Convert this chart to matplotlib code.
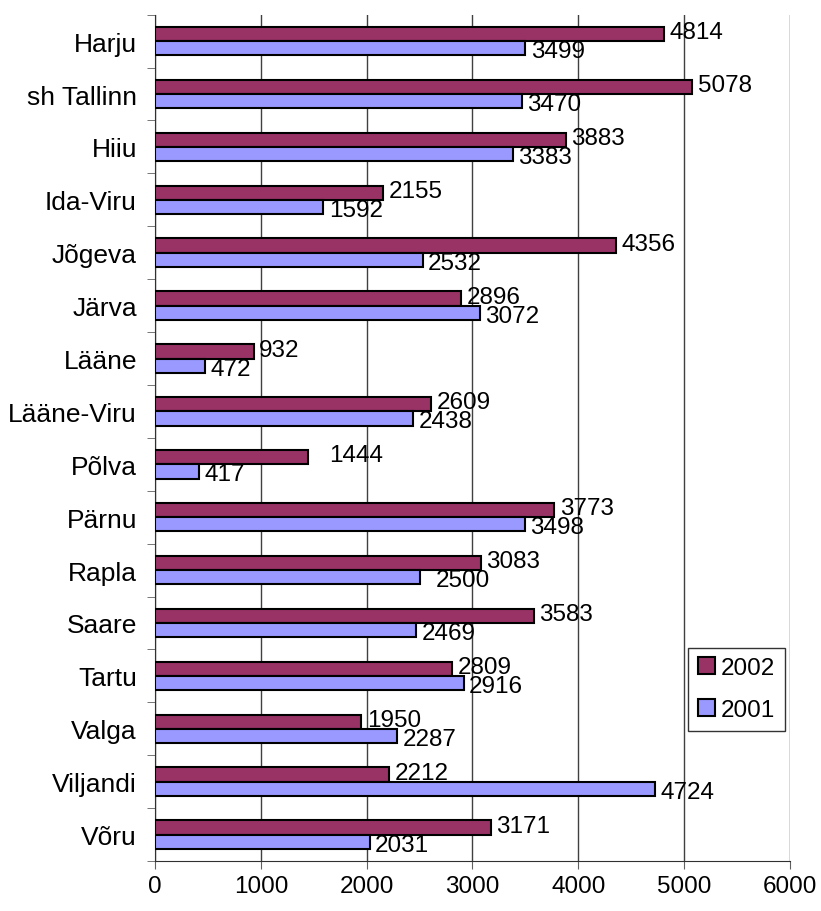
import numpy as np
import matplotlib.pyplot as plt

plt.rcParams['font.family'] = ['Liberation Sans', 'DejaVu Sans']

## Data
counties = ["Harju", "sh Tallinn", "Hiiu", "Ida-Viru", "Jõgeva", "Järva", "Lääne",
            "Lääne-Viru", "Põlva", "Pärnu", "Rapla", "Saare", "Tartu", "Valga",
            "Viljandi", "Võru"]
v2002 = [4814, 5078, 3883, 2155, 4356, 2896, 932, 2609, 1444, 3773, 3083, 3583,
         2809, 1950, 2212, 3171]
v2001 = [3499, 3470, 3383, 1592, 2532, 3072, 472, 2438, 417, 3498, 2500, 2469,
         2916, 2287, 4724, 2031]

## Plot
fig = plt.figure(figsize=(8.21, 9.12), dpi=100)
ax = fig.add_axes([0.1888, 0.0548, 0.7734, 0.928])

y = np.arange(len(counties))
h = 0.27
ax.barh(y - h / 2, v2002, height=h, color="#993366", edgecolor="black",
        linewidth=1.5, label="2002", zorder=3)
ax.barh(y + h / 2, v2001, height=h, color="#9999FF", edgecolor="black",
        linewidth=1.5, label="2001", zorder=3)

# Excel put a few labels a bit further out
nudge2002 = {"Põlva": 150}
nudge2001 = {"Rapla": 100}

for c, yi, v in zip(counties, y, v2002):
    ax.text(v + 50 + nudge2002.get(c, 0), yi - h / 2 - 0.035, str(v),
            va="center", ha="left", fontsize=17.5, zorder=4)
for c, yi, v in zip(counties, y, v2001):
    ax.text(v + 50 + nudge2001.get(c, 0), yi + h / 2 + 0.055, str(v),
            va="center", ha="left", fontsize=17.5, zorder=4)

ax.set_xlim(0, 6000)
ax.set_ylim(len(counties) - 0.5, -0.5)
ax.set_xticks(range(0, 6001, 1000))
ax.set_yticks(y)
ax.set_yticklabels(counties)
ax.set_yticks(np.arange(len(counties) + 1) - 0.5, minor=True)
ax.tick_params(axis="y", which="major", length=0, labelsize=19, pad=13)
ax.tick_params(axis="y", which="minor", length=6, color="#606060")
ax.tick_params(axis="x", labelsize=17.5, length=6, pad=4, color="#606060")

ax.grid(axis="x", color="#404040", linewidth=1, zorder=0)
ax.spines["top"].set_visible(False)
ax.spines["right"].set_visible(False)
ax.spines["left"].set_color("#303030")
ax.spines["bottom"].set_color("#303030")

leg = ax.legend(loc="lower right", bbox_to_anchor=(0.992, 0.1536), fontsize=17.5,
                frameon=True, fancybox=False, edgecolor="black",
                handlelength=0.7, handleheight=0.7, handletextpad=0.25,
                labelspacing=0.82, borderpad=0.4, borderaxespad=0)
leg.get_frame().set_linewidth(1.0)

plt.savefig("out.png", dpi=100)
